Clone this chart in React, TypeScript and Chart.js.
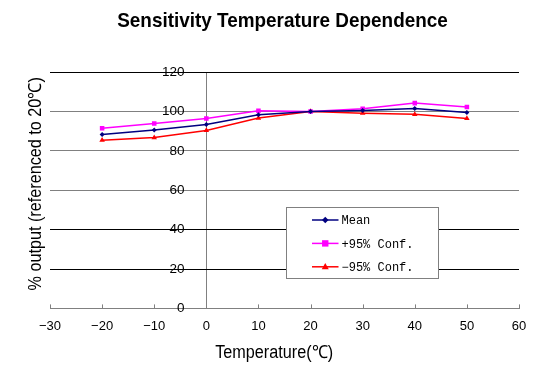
import React, { useEffect, useRef } from 'react';
import { Chart, registerables } from 'chart.js';

Chart.register(...registerables);

// ---- data ----
const temperatures = [-20, -10, 0, 10, 20, 30, 40, 50];
const meanValues = [88.3, 90.5, 93.4, 98.3, 100, 100.5, 101.5, 99.5];
const upperValues = [91.5, 93.9, 96.4, 100.3, 100, 101.3, 104.2, 102.2];
const lowerValues = [85.4, 86.7, 90.3, 96.6, 100, 99.1, 98.5, 96.4];
const seriesLabels = ['Mean', '+95% Conf.', '\u221295% Conf.'];
const xTickValues = [-30, -20, -10, 0, 10, 20, 30, 40, 50, 60];
const yTickValues = [0, 20, 40, 60, 80, 100, 120];
const darkGridValues = [120, 40, 20];

const titleText = 'Sensitivity Temperature Dependence';
const xTitle = 'Temperature(\u2103)';
const yTitle = '% output (referenced to 20\u2103)';

const seriesColors = ['#000080', '#FF00FF', '#FF0000'];
const seriesPointStyles = ['rectRot', 'rect', 'triangle'];
const seriesPointRadius = [2.5, 3.2, 3.2];

const SANS = '"Liberation Sans", Arial, sans-serif';
const MONO = '"Liberation Mono", "Courier New", monospace';

function drawMarker(ctx: CanvasRenderingContext2D, style: string, x: number, y: number, r: number, color: string) {
  ctx.save();
  ctx.fillStyle = color;
  ctx.beginPath();
  if (style === 'rect') {
    ctx.rect(x - r, y - r, 2 * r, 2 * r);
  } else if (style === 'rectRot') {
    ctx.moveTo(x, y - r * 1.3);
    ctx.lineTo(x + r * 1.3, y);
    ctx.lineTo(x, y + r * 1.3);
    ctx.lineTo(x - r * 1.3, y);
    ctx.closePath();
  } else {
    ctx.moveTo(x, y - r * 1.2);
    ctx.lineTo(x + r * 1.1, y + r * 0.8);
    ctx.lineTo(x - r * 1.1, y + r * 0.8);
    ctx.closePath();
  }
  ctx.fill();
  ctx.restore();
}

// narrow-looking text (horizontally condensed), drawn as real canvas text
function narrowText(ctx: CanvasRenderingContext2D, text: string, x: number, y: number, font: string, rotate: number) {
  ctx.save();
  ctx.translate(x, y);
  if (rotate) ctx.rotate(rotate);
  ctx.scale(0.9, 1);
  ctx.font = font;
  ctx.fillStyle = '#000';
  ctx.textAlign = 'center';
  ctx.textBaseline = 'middle';
  ctx.fillText(text, 0, 0);
  ctx.restore();
}

const titles = {
  id: 'titles',
  afterDraw(chart: any) {
    const { ctx, chartArea: ca } = chart;
    narrowText(ctx, titleText, chart.width * 0.509, 21, `bold 21px ${SANS}`, 0);
    narrowText(ctx, xTitle, ca.left + (ca.right - ca.left) * 0.478, ca.bottom + 45, `18px ${SANS}`, 0);
    narrowText(ctx, yTitle, ca.left - 14, ca.top + (ca.bottom - ca.top) * 0.473, `18px ${SANS}`, -Math.PI / 2);
  },
};

const insideTicks = {
  id: 'insideTicks',
  afterDatasetsDraw(chart: any) {
    const { ctx, chartArea } = chart;
    const xs = chart.scales.x;
    ctx.save();
    ctx.strokeStyle = '#808080';
    ctx.lineWidth = 1;
    for (const v of xTickValues) {
      if (v === 0) continue;
      const px = Math.round(xs.getPixelForValue(v)) + 0.5;
      ctx.beginPath();
      ctx.moveTo(px, chartArea.bottom);
      ctx.lineTo(px, chartArea.bottom - 4);
      ctx.stroke();
    }
    ctx.restore();
  },
};

const boxLegend = {
  id: 'boxLegend',
  afterDatasetsDraw(chart: any) {
    const { ctx, chartArea: ca } = chart;
    const w = ca.right - ca.left;
    const h = ca.bottom - ca.top;
    const left = Math.round(ca.left + w * 0.503) + 0.5;
    const right = Math.round(ca.left + w * 0.827) + 0.5;
    const top = Math.round(ca.top + h * 0.572) + 0.5;
    const bottom = Math.round(ca.top + h * 0.870) + 0.5;
    ctx.save();
    ctx.fillStyle = '#ffffff';
    ctx.fillRect(left, top, right - left, bottom - top);
    ctx.strokeStyle = '#808080';
    ctx.lineWidth = 1;
    ctx.strokeRect(left, top, right - left, bottom - top);
    const rowStart = top + 12.5;
    const rowGap = 23.4;
    ctx.font = `12px ${MONO}`;
    ctx.textBaseline = 'middle';
    ctx.textAlign = 'left';
    chart.data.datasets.forEach((ds: any, i: number) => {
      const y = rowStart + i * rowGap;
      const x0 = left + 25.5;
      const x1 = left + 52;
      ctx.strokeStyle = ds.borderColor;
      ctx.lineWidth = 1.5;
      ctx.beginPath();
      ctx.moveTo(x0, y);
      ctx.lineTo(x1, y);
      ctx.stroke();
      drawMarker(ctx, ds.pointStyle, (x0 + x1) / 2, y, ds.pointRadius, ds.borderColor);
      ctx.fillStyle = '#000';
      ctx.fillText(ds.label, x1 + 3, y + 1);
    });
    ctx.restore();
  },
};

export default function App() {
  const canvasRef = useRef<HTMLCanvasElement | null>(null);

  useEffect(() => {
    const canvas = canvasRef.current;
    if (!canvas) return;
    const seriesValues = [meanValues, upperValues, lowerValues];
    const chart = new Chart(canvas, {
      type: 'line',
      data: {
        datasets: seriesValues.map((vals, i) => ({
          label: seriesLabels[i],
          data: temperatures.map((t, j) => ({ x: t, y: vals[j] })),
          borderColor: seriesColors[i],
          backgroundColor: seriesColors[i],
          pointStyle: seriesPointStyles[i] as any,
          pointRadius: seriesPointRadius[i],
          pointBorderWidth: 0,
          borderWidth: 1.5,
          tension: 0,
          fill: false,
          yAxisID: 'y',
        })),
      },
      options: {
        animation: false,
        responsive: true,
        maintainAspectRatio: false,
        layout: { padding: { left: 50, right: 36, top: 72, bottom: 29 } },
        plugins: {
          legend: { display: false },
          tooltip: { enabled: false },
          title: { display: false },
        },
        scales: {
          x: {
            type: 'linear',
            min: -30,
            max: 60,
            afterBuildTicks: (scale: any) => {
              scale.ticks = xTickValues.map((v) => ({ value: v }));
            },
            ticks: {
              color: '#000',
              font: { family: SANS, size: 13 },
              padding: 10,
              callback: (v: any) => String(v).replace('-', '\u2212'),
            },
            grid: {
              drawOnChartArea: true,
              drawTicks: false,
              color: (c: any) => (c.tick && c.tick.value === 0 ? '#808080' : 'rgba(0,0,0,0)'),
            },
            border: { color: '#808080', width: 1 },
          },
          y: {
            type: 'linear',
            axis: 'y',
            position: { x: -4.2 } as any,
            min: 0,
            max: 120,
            afterBuildTicks: (scale: any) => {
              scale.ticks = yTickValues.map((v) => ({ value: v }));
            },
            ticks: {
              color: '#000',
              font: { family: SANS, size: 13.5 },
            },
            grid: {
              drawTicks: false,
              color: (c: any) => (c.tick && darkGridValues.includes(c.tick.value) ? '#000000' : '#808080'),
              lineWidth: 1,
            },
            border: { display: false },
          },
        },
      },
      plugins: [insideTicks, boxLegend, titles],
    } as any);
    return () => chart.destroy();
  }, []);

  return (
    <div style={{ position: 'absolute', left: 0, top: 0, width: 555, height: 373, background: '#fff' }}>
      <canvas ref={canvasRef} />
    </div>
  );
}
